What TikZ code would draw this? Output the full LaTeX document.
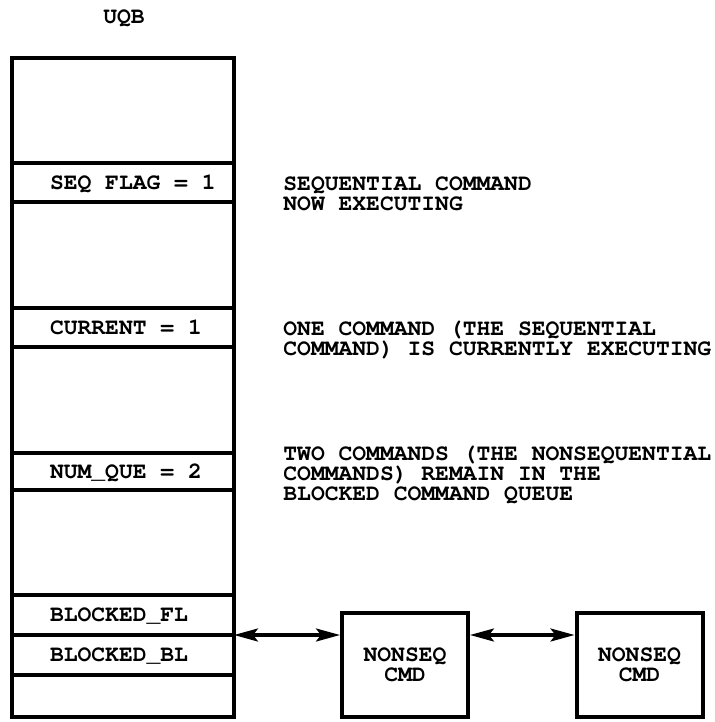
\documentclass[tikz,border=0pt]{standalone}
\usepackage{fontspec}
\newfontfamily\typefont{texgyrecursor}[Extension=.otf, UprightFont=*-regular, BoldFont=*-bold]
\usetikzlibrary{arrows.meta}
\newcommand{\fld}[1]{\makebox[73pt][l]{#1}}
\newcommand{\labfont}{\typefont\bfseries\fontsize{11.5}{10}\selectfont\lineskiplimit=-10pt\relax}
\tikzset{
    every node/.style={font=\labfont},
    frame/.style={draw, line width=2pt, outer sep=0pt, anchor=north west},
    field/.style={frame, minimum width=111pt, inner xsep=19pt, inner ysep=0pt,
                  text height=6.5pt, text depth=0pt},
    note/.style={anchor=base west, align=left, inner sep=0pt},
    cmd/.style={draw, line width=2pt, minimum width=63pt, minimum height=52pt, align=center},
    link/.style={line width=1.6pt, {Stealth[length=12pt,width=6.5pt,inset=2.5pt]}-{Stealth[length=12pt,width=6.5pt,inset=2.5pt]}}
}
\begin{document}
\begin{tikzpicture}[x=0.5pt,y=-0.5pt]
    \useasboundingbox (0,0) rectangle (714,722);
    \node at (124,18) (title) {UQB};
    \node[frame, minimum width=111pt, minimum height=329.5pt] (uqb) at (12,58) {};
    \node[field, minimum height=19.5pt] (seq) at (12,163) {\fld{SEQ FLAG = 1}};
    \node[field, minimum height=19.5pt] (cur) at (12,308) {\fld{CURRENT = 1}};
    \node[field, minimum height=18.5pt] (numq) at (12,453) {\fld{NUM\_QUE = 2}};
    \node[field, minimum height=20pt] (fl) at (12,595) {\fld{BLOCKED\_FL}};
    \node[field, minimum height=20pt] (bl) at (12,635) {\fld{BLOCKED\_BL}};
    \node[note] (seqnote) at (283,210) {SEQUENTIAL COMMAND\\NOW EXECUTING};
    \node[note] (curnote) at (283,355) {ONE COMMAND (THE SEQUENTIAL\\COMMAND) IS CURRENTLY EXECUTING};
    \node[note] (numqnote) at (283,500) {TWO COMMANDS (THE NONSEQUENTIAL\\COMMANDS) REMAIN IN THE\\BLOCKED COMMAND QUEUE};
    \node[cmd] (cmd1) at (405,665) {NONSEQ\\CMD};
    \node[cmd] (cmd2) at (639.5,665) {NONSEQ\\CMD};
    \draw[link] (fl.south east) -- (fl.south east -| cmd1.west);
    \draw[link] (cmd1.east |- fl.south) -- (cmd2.west |- fl.south);
\end{tikzpicture}
\end{document}
